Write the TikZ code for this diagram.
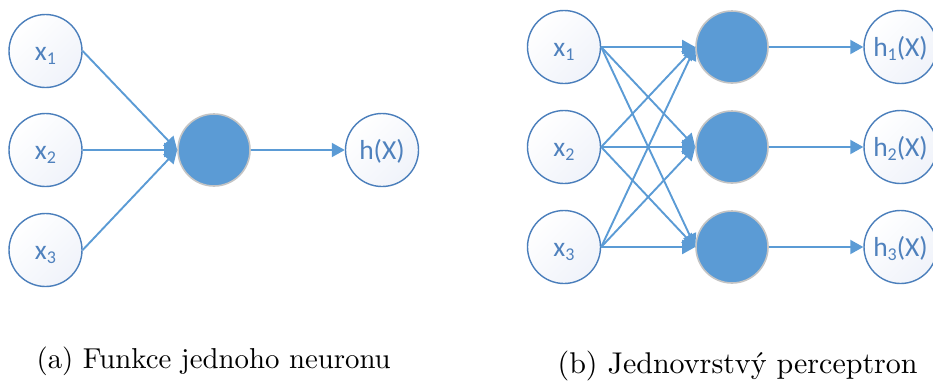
\documentclass[tikz,border=0pt]{standalone}
\usepackage{fontspec}
\newfontfamily\labelfont{Carlito}
\usetikzlibrary{arrows.meta}

\definecolor{ringblue}{HTML}{4A7EBB}
\definecolor{flowblue}{HTML}{5B9BD5}
\definecolor{unitgray}{HTML}{C4C4C4}
\definecolor{labelblue}{HTML}{4F81BD}
\definecolor{palefill}{HTML}{F0F3FA}

% lowered index in the node labels
\newcommand\lowidx[1]{\raisebox{-4pt}{\fontsize{18}{18}\selectfont#1}}

\tikzset{
  io/.style={circle, minimum size=73pt, inner sep=0pt, draw=ringblue, line width=1.4pt,
    top color=white, bottom color=palefill, shading angle=45,
    text=labelblue, font=\labelfont\fontsize{27.5}{27.5}\selectfont,
    text height=18pt, text depth=0pt},
  unit/.style={circle, minimum size=72pt, inner sep=0pt, fill=flowblue,
    draw=unitgray, line width=1.6pt},
  link/.style={draw=flowblue, line width=1.9pt,
    -{Triangle[length=13pt,width=14pt,fill=flowblue]}},
  caption/.style={anchor=base west, inner sep=0pt}
}

\begin{document}
\begin{tikzpicture}[x=1pt, y=-1pt]
\useasboundingbox (0,0) rectangle (933,383);

% (a) single neuron
\node[io] (a1) at (45.5,51) {x\lowidx{1}};
\node[io] (a2) at (45.5,150) {x\lowidx{2}};
\node[io] (a3) at (45.5,250) {x\lowidx{3}};
\node[unit] (an) at (214,150) {};
\node[io] (ah) at (382,150) {h(X)};

\draw[link] (a1.east) -- (an.west);
\draw[link] (a2.east) -- (an.west);
\draw[link] (a3.east) -- (an.west);
\draw[link] (an.east) -- (ah.west);

% (b) single-layer perceptron
\foreach \i/\y in {1/47,2/147,3/247}{
  \node[io] (b\i) at (564,\y) {x\lowidx{\i}};
  \node[unit] (n\i) at (732,\y) {};
  \node[io] (h\i) at (900.5,\y) {h\lowidx{\i}(X)};
}
\foreach \i in {1,2,3}{
  \foreach \j in {1,2,3}{
    \draw[link] (b\i.east) -- (n\j.west);
  }
  \draw[link] (n\i.east) -- (h\i.west);
}

\node[caption, scale=2.88] (capa) at (36,368) {(a) Funkce jednoho neuronu};
\node[caption, scale=3.0] (capb) at (557,373) {(b) Jednovrstvý perceptron};
\end{tikzpicture}
\end{document}
